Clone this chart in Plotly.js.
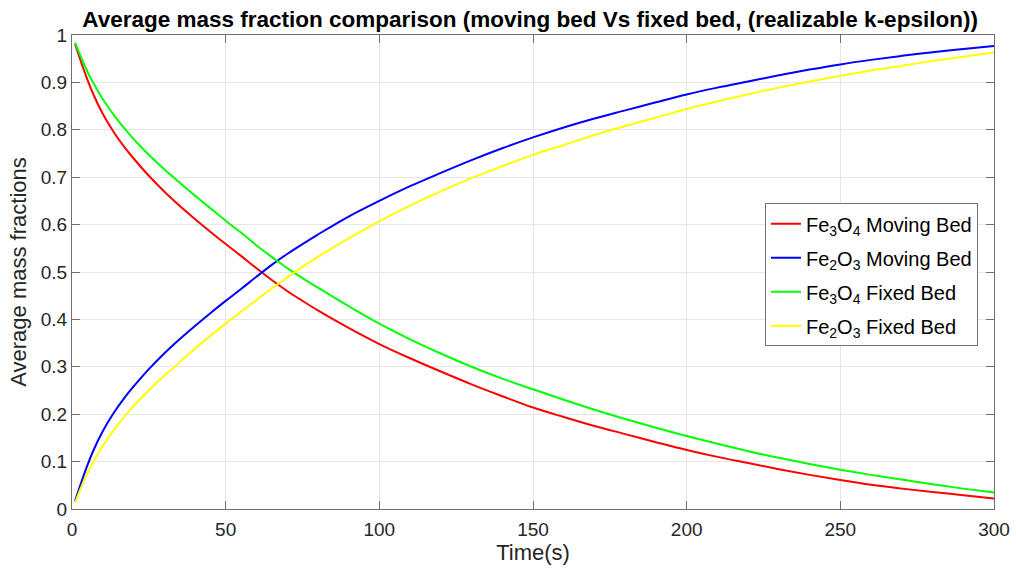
<!DOCTYPE html>
<html>
<head>
<meta charset="utf-8">
<script src="https://cdn.plot.ly/plotly-3.0.1.min.js"></script>
<style>html,body{margin:0;padding:0;background:#fff;}#chart{width:1016px;height:572px;}</style>
</head>
<body>
<div id="chart"></div>
<script>
const timeMoving = [1,3,5,7,10,13.5,17,20,25,30,35,40,45,50,55,60,65,70,75,80,90,100,110,120,130,140,150,160,170,180,190,200,210,220,230,240,250,260,270,280,290,300];
const fe3o4Moving = [0.981,0.942,0.906,0.874,0.834,0.796,0.764,0.740,0.703,0.670,0.640,0.612,0.585,0.559,0.534,0.508,0.483,0.460,0.439,0.419,0.382,0.348,0.318,0.290,0.263,0.238,0.214,0.194,0.175,0.158,0.141,0.1245,0.110,0.097,0.084,0.072,0.061,0.051,0.043,0.036,0.029,0.022];
const fe2o3Moving = [0.017,0.056,0.092,0.124,0.164,0.202,0.234,0.258,0.295,0.328,0.358,0.386,0.413,0.439,0.464,0.490,0.515,0.538,0.559,0.579,0.617,0.650,0.681,0.709,0.736,0.761,0.784,0.805,0.824,0.841,0.858,0.8745,0.889,0.902,0.915,0.927,0.938,0.9475,0.956,0.9635,0.9705,0.977];
const timeFixed = [1,3,5,7,10,14,18.5,22,26,30,33,38,44,51,56,61,66,71,76,80,90,100,110,120,130,140,150,160,170,180,190,200,210,220,230,240,250,260,270,280,290,300];
const fe3o4Fixed = [0.984,0.952,0.923,0.898,0.865,0.828,0.792,0.767,0.741,0.717,0.700,0.672,0.640,0.603,0.578,0.551,0.527,0.504,0.483,0.467,0.428,0.391,0.358,0.328,0.300,0.275,0.2525,0.2305,0.2095,0.190,0.1715,0.154,0.1375,0.122,0.108,0.095,0.083,0.072,0.062,0.052,0.043,0.035];
const fe2o3Fixed = [0.013,0.046,0.075,0.100,0.133,0.170,0.206,0.231,0.257,0.281,0.298,0.327,0.360,0.396,0.421,0.446,0.470,0.493,0.515,0.532,0.571,0.607,0.640,0.670,0.698,0.723,0.747,0.768,0.789,0.808,0.826,0.844,0.860,0.875,0.889,0.902,0.914,0.925,0.935,0.945,0.954,0.963];
const seriesNames = ["Fe<sub>3</sub>O<sub>4</sub> Moving Bed","Fe<sub>2</sub>O<sub>3</sub> Moving Bed","Fe<sub>3</sub>O<sub>4</sub> Fixed Bed","Fe<sub>2</sub>O<sub>3</sub> Fixed Bed"];
const seriesColors = ["#ff0000","#0000ff","#00ff00","#ffff00"];
const yTickVals = [0,0.1,0.2,0.3,0.4,0.5,0.6,0.7,0.8,0.9,1];
const yTickText = ["0","0.1","0.2","0.3","0.4","0.5","0.6","0.7","0.8","0.9","1"];
const xTickVals = [0,50,100,150,200,250,300];

const xs = [timeMoving, timeMoving, timeFixed, timeFixed];
const ys = [fe3o4Moving, fe2o3Moving, fe3o4Fixed, fe2o3Fixed];
const traces = ys.map((y,i)=>({
  x: xs[i], y: y, type:'scatter', mode:'lines', name: seriesNames[i],
  legendgroup: 'g'+i,
  line:{color: seriesColors[i], width:2, shape:'spline', smoothing:1}
}));

const FONT = 'Liberation Sans, Arial, sans-serif';
const axisCommon = {
  showline:true, mirror:'ticks', linecolor:'#707070', linewidth:1,
  ticks:'inside', ticklen:8, tickcolor:'#707070',
  showgrid:true, gridcolor:'#e6e6e6', gridwidth:1, zeroline:false,
  tickfont:{family:FONT, size:19, color:'#262626'}
};

const layout = {
  width:1016, height:572,
  paper_bgcolor:'#ffffff', plot_bgcolor:'#ffffff',
  margin:{l:72, r:22, t:35, b:63},
  font:{family:FONT, color:'#262626'},
  title:{text:'<b>Average mass fraction comparison (moving bed Vs fixed bed, (realizable k-epsilon))</b>',
    x:0.5217, xanchor:'center', y:0.966, yanchor:'middle',
    font:{family:FONT, size:22.5, color:'#000000'}},
  xaxis: Object.assign({}, axisCommon, {range:[0,300], tickvals:xTickVals, ticktext:xTickVals.map(String),
    ticklabelstandoff:3,
    title:{text:'Time(s)', standoff:4, font:{family:FONT, size:22, color:'#262626'}}}),
  yaxis: Object.assign({}, axisCommon, {range:[0,1], tickvals:yTickVals, ticktext:yTickText,
    title:{text:'Average mass fractions', standoff:8, font:{family:FONT, size:22, color:'#262626'}}}),
  showlegend:true,
  legend:{x:0.7516, y:0.645, xanchor:'left', yanchor:'top',
    bgcolor:'#ffffff', bordercolor:'#707070', borderwidth:1,
    font:{family:FONT, size:20, color:'#000000'},
    tracegroupgap:5, itemwidth:30}
};

Plotly.newPlot('chart', traces, layout, {displayModeBar:false, staticPlot:true});
</script>
</body>
</html>
